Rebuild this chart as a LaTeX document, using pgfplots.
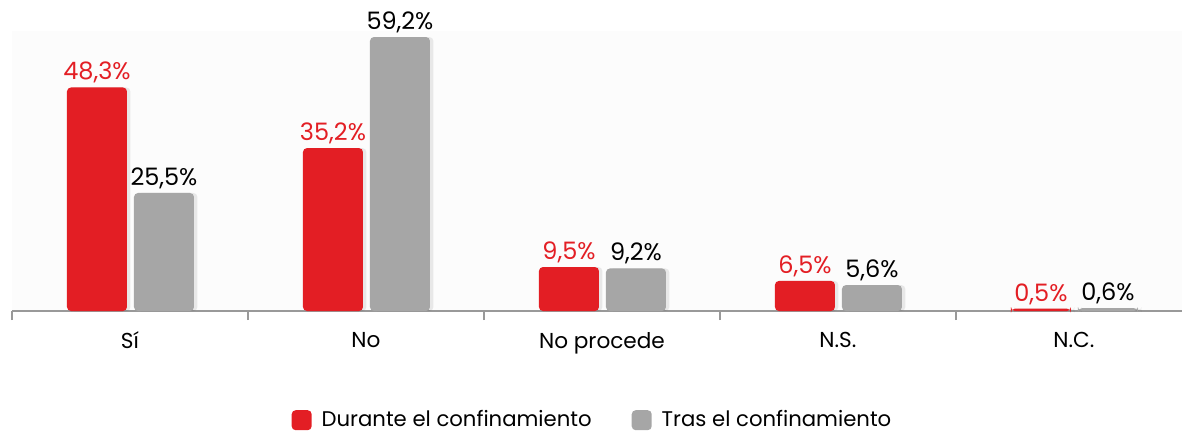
\documentclass[border=0pt]{standalone}
\usepackage{pgfplots}
\pgfplotsset{compat=1.18}
\usepackage{fontspec}
\setmainfont{Poppins}
\definecolor{myred}{HTML}{E31E24}
\definecolor{mygray}{HTML}{A6A6A6}
\definecolor{axgray}{HTML}{999999}
\begin{document}
\begin{tikzpicture}
\path[use as bounding box] (0,0) rectangle (591pt,-216pt);
\begin{axis}[
  at={(6pt,-155.5pt)}, anchor=south west,
  scale only axis, width=585pt, height=140pt,
  xmin=-0.5, xmax=4.458, ymin=0, ymax=60.5,
  ybar, bar width=30pt,
  axis y line=none, axis x line*=bottom,
  axis line style={axgray, line width=0.6pt},
  axis background/.style={fill=black!1},
  xtick={0,1,2,3,4},
  xticklabels={Sí,No,No procede,N.S.,N.C.},
  major tick length=0pt,
  tick align=outside,
  extra x ticks={-0.5,0.5,1.5,2.5,3.5},
  extra x tick labels={},
  extra x tick style={major tick length=4.5pt, tick style={axgray, line width=0.6pt}},
  xticklabel style={font=\fontsize{10.8}{13}\selectfont, yshift=-7pt},
  legend style={at={(0.497,-0.39)}, anchor=center, draw=none, fill=none,
    legend columns=2, font=\fontsize{10.6}{13}\selectfont,
    /tikz/every even column/.append style={column sep=18pt}},
  legend image code/.code={\fill[#1, rounded corners=2pt] (0pt,-5pt) rectangle (10pt,5pt);\path (13pt,0pt);},
  /pgf/number format/assume math mode=true,
  clip=false,
]
% shadows
\addplot[fill=black, opacity=0.08, draw=none, bar shift=-14.8pt, rounded corners=2pt, forget plot]
  coordinates {(0,48.3)(1,35.2)(2,9.5)(3,6.5)(4,0.5)};
\addplot[fill=black, opacity=0.08, draw=none, bar shift=18.7pt, rounded corners=2pt, forget plot]
  coordinates {(0,25.5)(1,59.2)(2,9.2)(3,5.6)(4,0.6)};
% bars
\addplot[fill=myred, draw=none, bar shift=-16.5pt, rounded corners=2pt,
  nodes near coords={\pgfmathprintnumber[use comma,fixed,precision=1,fixed zerofill,assume math mode=true]{\pgfplotspointmeta}\%},
  every node near coord/.append style={font=\fontsize{12}{14}\selectfont, color=myred, yshift=-1.5pt}]
  coordinates {(0,48.3)(1,35.2)(2,9.5)(3,6.5)(4,0.5)};
\addlegendentry{Durante el confinamiento}
\addplot[fill=mygray, draw=none, bar shift=17pt, rounded corners=2pt,
  nodes near coords={\pgfmathprintnumber[use comma,fixed,precision=1,fixed zerofill,assume math mode=true]{\pgfplotspointmeta}\%},
  every node near coord/.append style={font=\fontsize{12}{14}\selectfont, color=black, yshift=-1.5pt}]
  coordinates {(0,25.5)(1,59.2)(2,9.2)(3,5.6)(4,0.6)};
\addlegendentry{Tras el confinamiento}
\end{axis}
\end{tikzpicture}
\end{document}
